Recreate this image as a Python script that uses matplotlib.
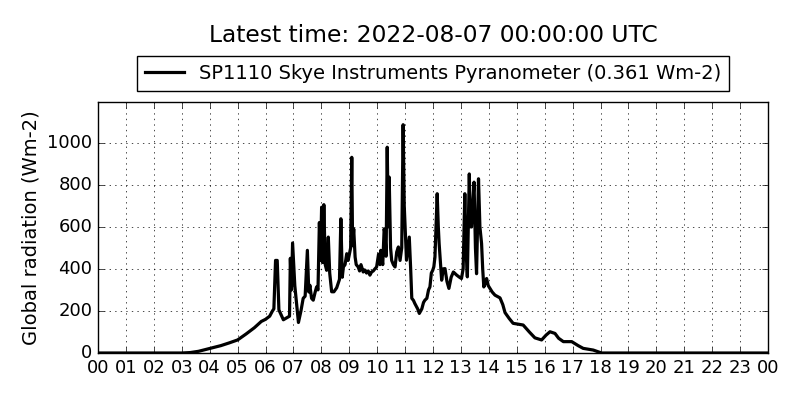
import numpy as np
import matplotlib
matplotlib.use("Agg")
import matplotlib.pyplot as plt

# hours since midnight UTC and global radiation in Wm-2
hours = [0.0, 3.0, 3.3, 3.6, 3.9, 4.1, 4.4, 4.7, 5.0, 5.3, 5.6, 5.85, 6.0, 6.15,
         6.25, 6.3, 6.36, 6.42, 6.48, 6.64, 6.82, 6.86, 6.89, 6.93, 6.97, 7.05,
         7.18, 7.27, 7.35, 7.42, 7.50, 7.55, 7.59, 7.65, 7.71, 7.78, 7.83, 7.88,
         7.93, 7.97, 8.01, 8.05, 8.09, 8.14, 8.19, 8.25, 8.30, 8.37, 8.45, 8.55,
         8.65, 8.70, 8.75, 8.79, 8.85, 8.91, 8.96, 9.05, 9.09, 9.12, 9.16, 9.21,
         9.25, 9.32, 9.37, 9.42, 9.50, 9.55, 9.62, 9.68, 9.74, 9.80, 9.86, 9.92,
         9.98, 10.05, 10.10, 10.13, 10.20, 10.25, 10.28, 10.32, 10.36, 10.40,
         10.43, 10.48, 10.52, 10.58, 10.64, 10.70, 10.76, 10.82, 10.88, 10.93,
         10.97, 11.05, 11.15, 11.20, 11.24, 11.30, 11.35, 11.45, 11.51, 11.60,
         11.66, 11.71, 11.78, 11.84, 11.89, 11.94, 11.99, 12.03, 12.07, 12.15,
         12.19, 12.22, 12.31, 12.37, 12.43, 12.50, 12.57, 12.65, 12.73, 12.85,
         12.95, 13.02, 13.08, 13.14, 13.18, 13.23, 13.30, 13.34, 13.38, 13.42,
         13.47, 13.52, 13.56, 13.63, 13.68, 13.74, 13.78, 13.82, 13.87, 13.92,
         13.98, 14.04, 14.12, 14.22, 14.40, 14.50, 14.58, 14.73, 14.87, 15.0,
         15.23, 15.45, 15.65, 15.89, 16.05, 16.19, 16.37, 16.5, 16.67, 16.97,
         17.2, 17.38, 17.74, 18.04, 24.0]
radiation = [0, 0, 2, 8, 18, 25, 35, 48, 62, 90, 120, 150, 160, 175,
             200, 210, 440, 440, 205, 158, 172, 175, 450, 300, 523, 320,
             145, 200, 260, 270, 488, 290, 322, 260, 251, 290, 314, 300,
             620, 440, 693, 430, 705, 420, 393, 551, 380, 291, 291, 310,
             350, 638, 360, 409, 420, 472, 440, 500, 930, 510, 590, 456,
             420, 409, 390, 420, 385, 395, 380, 390, 370, 385, 390, 400,
             409, 470, 420, 488, 420, 590, 567, 460, 978, 600,
             836, 500, 440, 420, 409, 480, 504, 440, 500, 1085,
             700, 441, 551, 400, 260, 250, 235, 210, 188, 210,
             240, 251, 260, 300, 314, 380, 393, 410, 456, 757,
             600, 520, 346, 400, 401, 340, 307, 360, 385, 370,
             360, 354, 400, 757, 500, 362, 851, 600, 599, 700,
             812, 500, 377, 828, 600, 520, 400, 314, 330, 354,
             320, 307, 290, 275, 262, 230, 192, 164, 141, 138,
             133, 100, 72, 62, 85, 101, 93, 70, 54, 54,
             35, 22, 14, 0, 0]

hour_labels = ["%02d" % (h % 24) for h in range(25)]
label = "SP1110 Skye Instruments Pyranometer (0.361 Wm-2)"

plt.style.use("classic")
fig = plt.figure(figsize=(8, 4), dpi=100, facecolor="white")
ax = fig.add_axes([0.1225, 0.1175, 0.8375, 0.6275])

ax.plot(hours, radiation, color="black", lw=2.3, label=label)

ax.set_xlim(0, 24)
ax.set_ylim(0, 1193)
ax.set_xticks(np.arange(25))
ax.set_xticklabels(hour_labels)
ax.set_yticks([0, 200, 400, 600, 800, 1000])
ax.tick_params(labelsize=13)
ax.grid(True, color="black", linestyle=":")
ax.set_ylabel("Global radiation (Wm-2)", fontsize=14)

ax.legend(loc="lower center", bbox_to_anchor=(0.5, 1.045), fontsize=14,
          handlelength=2, borderaxespad=0, numpoints=1)
fig.text(0.54125, 0.912, "Latest time: 2022-08-07 00:00:00 UTC",
         ha="center", va="center", fontsize=16.8)

fig.savefig("out.png", dpi=100, facecolor="white")
